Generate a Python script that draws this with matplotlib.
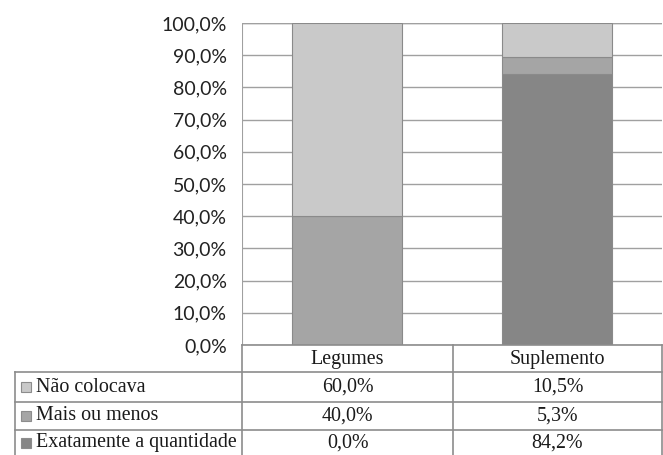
import matplotlib
matplotlib.use("Agg")
import matplotlib.pyplot as plt
import numpy as np

# Dados do gráfico
categorias = ["Legumes", "Suplemento"]
series = ["Não colocava", "Mais ou menos", "Exatamente a quantidade"]
nao_colocava = [60.0, 10.5]
mais_ou_menos = [40.0, 5.3]
exatamente = [0.0, 84.2]
cores = ["#c9c9c9", "#a5a5a5", "#868686"]
borda = "#8a8a8a"

W, H = 663, 455
fig = plt.figure(figsize=(W / 100, H / 100), dpi=100)

# Eixo principal (em pixels da figura)
x0, x1, y_top, y_bot = 242, 662, 23, 345
ax = fig.add_axes([x0 / W, (H - y_bot) / H, (x1 - x0) / W, (y_bot - y_top) / H])

x = np.arange(len(categorias))
# empilhamento de baixo para cima: exatamente, mais ou menos, não colocava
pilha = [(exatamente, cores[2]), (mais_ou_menos, cores[1]), (nao_colocava, cores[0])]
base = np.zeros(len(categorias))
for vals, cor in pilha:
    vals = np.array(vals)
    ax.bar(x, vals, bottom=base, width=0.52, color=cor, edgecolor=borda, linewidth=0.8, zorder=3)
    base = base + vals

ax.set_xlim(-0.5, len(categorias) - 0.5)
ax.set_ylim(0, 100)
ax.set_yticks(np.arange(0, 101, 10))
ax.set_yticklabels([f"{v:.1f}%".replace(".", ",") for v in np.arange(0, 101, 10)],
                   fontsize=14, family="Lato", color="#222222")
ax.set_xticks([])
ax.tick_params(axis="y", length=0, pad=11)
ax.yaxis.grid(True, color="#a0a0a0", linewidth=1.0, zorder=0)
for s in ["left", "top", "right", "bottom"]:
    ax.spines[s].set_visible(False)
ax.axhline(100, color="#a0a0a0", linewidth=1.0, zorder=1)
ax.axvline(-0.5, color="#a0a0a0", linewidth=1.5, zorder=1)

# Tabela de dados desenhada em coordenadas de pixel
tab = fig.add_axes([0, 0, 1, 1])
tab.set_xlim(0, W)
tab.set_ylim(H, 0)
tab.axis("off")

lc = "#8c8c8c"
tfont = dict(family="Liberation Serif", fontsize=14.4, color="#1a1a1a")
col_x = [x0, 453, x1]
row_y = [y_bot, 372, 402, 430, 460]
esq = 15

# linhas da tabela
tab.plot([x0, x1], [y_bot, y_bot], color=lc, lw=1.2)
for yy in row_y[1:]:
    tab.plot([esq, x1], [yy, yy], color=lc, lw=1.2)
for xx in col_x:
    tab.plot([xx, xx], [y_bot, H], color=lc, lw=1.2)
tab.plot([esq, esq], [row_y[1], H], color=lc, lw=1.2)

# cabeçalho
for i, c in enumerate(categorias):
    cx = (col_x[i] + col_x[i + 1]) / 2
    tab.text(cx, (row_y[0] + row_y[1]) / 2 + 1, c, ha="center", va="center", **tfont)

# linhas de valores
valores = [nao_colocava, mais_ou_menos, exatamente]
for r, (nome, vals, cor) in enumerate(zip(series, valores, cores)):
    cy = (row_y[r + 1] + row_y[r + 2]) / 2
    if r == 2:
        cy = 443
    tab.add_patch(plt.Rectangle((21, cy - 5), 10, 10, facecolor=cor, edgecolor=lc, lw=0.8))
    tab.text(36, cy, nome, ha="left", va="center", **tfont)
    for i, v in enumerate(vals):
        cx = (col_x[i] + col_x[i + 1]) / 2
        tab.text(cx, cy, f"{v:.1f}%".replace(".", ","), ha="center", va="center", **tfont)

fig.savefig("out.png", dpi=100)
